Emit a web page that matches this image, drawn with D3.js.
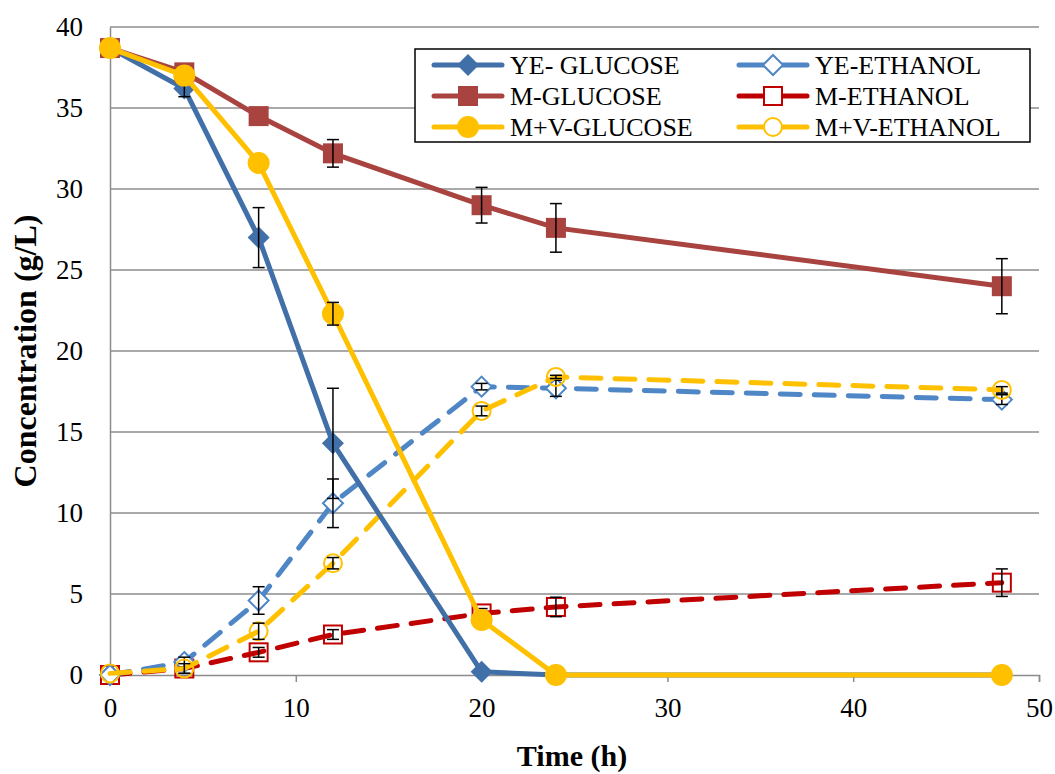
<!DOCTYPE html>
<html>
<head>
<meta charset="utf-8">
<script src="https://cdnjs.cloudflare.com/ajax/libs/d3/7.8.5/d3.min.js"></script>
<style>
  body { margin: 0; background: #fff; }
  svg text { font-family: "Liberation Serif", "Times New Roman", Times, "DejaVu Serif", serif !important; }
</style>
</head>
<body>
<svg width="1055" height="774"></svg>
<script>
var svg = d3.select("svg"),
    width = +svg.attr("width"),
    height = +svg.attr("height");

var serif = "'Liberation Serif', 'Times New Roman', Times, 'DejaVu Serif', serif";

// time points (h)
var times = [0, 4, 8, 12, 20, 24, 48];

// series values (g/L) and error bar half-widths
var yeGlucose   = [38.7, 36.2, 27.0, 14.3, 0.2, 0.0, 0.0];
var yeGlucoseErr = [0, 0.5, 1.85, 3.4, 0, 0, 0];
var mGlucose    = [38.7, 37.2, 34.5, 32.2, 29.0, 27.6, 24.0];
var mGlucoseErr = [0, 0, 0, 0.85, 1.1, 1.5, 1.7];
var mvGlucose   = [38.7, 37.0, 31.6, 22.3, 3.4, 0.0, 0.0];
var mvGlucoseErr = [0, 0, 0, 0.7, 0, 0, 0];
var yeEthanol   = [0.0, 0.8, 4.6, 10.6, 17.8, 17.7, 17.0];
var yeEthanolErr = [0, 0.3, 0.85, 1.5, 0.2, 0.5, 0.3];
var mEthanol    = [0.0, 0.4, 1.4, 2.5, 3.8, 4.2, 5.7];
var mEthanolErr = [0, 0.3, 0.3, 0.3, 0.3, 0.6, 0.85];
var mvEthanol   = [0.1, 0.4, 2.7, 6.9, 16.3, 18.4, 17.6];
var mvEthanolErr = [0, 0.3, 0.5, 0.35, 0.3, 0.1, 0.2];

var xTicks = [0, 10, 20, 30, 40, 50];
var yTicks = [0, 5, 10, 15, 20, 25, 30, 35, 40];

var series = [
  { name: "YE- GLUCOSE",  values: yeGlucose,  err: yeGlucoseErr,  color: "#4170A8", dash: null,    marker: "diamond", fill: true },
  { name: "M-GLUCOSE",    values: mGlucose,   err: mGlucoseErr,   color: "#A8433F", dash: null,    marker: "square",  fill: true },
  { name: "M+V-GLUCOSE",  values: mvGlucose,  err: mvGlucoseErr,  color: "#FFC000", dash: null,    marker: "circle",  fill: true },
  { name: "YE-ETHANOL",   values: yeEthanol,  err: yeEthanolErr,  color: "#4F86C6", dash: "20,14", marker: "diamond", fill: false },
  { name: "M-ETHANOL",    values: mEthanol,   err: mEthanolErr,   color: "#C00000", dash: "20,14", marker: "square",  fill: false },
  { name: "M+V-ETHANOL",  values: mvEthanol,  err: mvEthanolErr,  color: "#FFC000", dash: "20,14", marker: "circle",  fill: false }
];

var x = d3.scaleLinear().domain([0, 50]).range([110, 1039]);
var y = d3.scaleLinear().domain([0, 40]).range([675, 27]);

// gridlines
svg.append("g")
  .selectAll("line")
  .data(yTicks.filter(function(d){ return d > 0; }))
  .enter()
  .append("line")
  .attr("x1", x(0)).attr("x2", x(50))
  .attr("y1", function(d){ return y(d); })
  .attr("y2", function(d){ return y(d); })
  .attr("stroke", "#8c8c8c")
  .attr("stroke-width", 1.5);

// x axis
var xAxis = svg.append("g")
  .attr("transform", "translate(0," + y(0) + ")")
  .call(d3.axisBottom(x).tickValues(xTicks).tickSize(7).tickPadding(16).tickFormat(d3.format("d")));
xAxis.attr("font-family", serif);
xAxis.select(".domain").attr("stroke", "#8c8c8c").attr("stroke-width", 1.5);
xAxis.selectAll(".tick line").attr("stroke", "#8c8c8c").attr("stroke-width", 1.5);
xAxis.selectAll("text").attr("font-size", 27).attr("fill", "#000");

// y axis
var yAxis = svg.append("g")
  .attr("transform", "translate(" + x(0) + ",0)")
  .call(d3.axisLeft(y).tickValues(yTicks).tickSize(0).tickPadding(27).tickFormat(d3.format("d")));
yAxis.attr("font-family", serif);
yAxis.select(".domain").attr("stroke", "#8c8c8c").attr("stroke-width", 1.5);
yAxis.selectAll("text").attr("font-size", 27).attr("fill", "#000");

// axis titles
svg.append("text")
  .attr("x", 572).attr("y", 766)
  .attr("text-anchor", "middle")
  .attr("font-family", serif)
  .attr("font-size", 30).attr("font-weight", "bold")
  .text("Time (h)");

svg.append("text")
  .attr("transform", "translate(36,351) rotate(-90)")
  .attr("text-anchor", "middle")
  .attr("font-family", serif)
  .attr("font-size", 32).attr("font-weight", "bold")
  .text("Concentration (g/L)");

var line = d3.line()
  .x(function(d){ return x(d[0]); })
  .y(function(d){ return y(d[1]); });

function pts(s) {
  return times.map(function(t, i){ return [t, s.values[i]]; });
}

function drawMarker(g, s, cx, cy, big) {
  var sw = s.fill ? 0 : 2;
  if (s.marker === "diamond") {
    var r = s.fill ? 11 : 10;
    g.append("path")
      .attr("d", "M" + cx + "," + (cy - r) + "L" + (cx + r) + "," + cy + "L" + cx + "," + (cy + r) + "L" + (cx - r) + "," + cy + "Z")
      .attr("fill", s.fill ? s.color : "#fff")
      .attr("stroke", s.color).attr("stroke-width", sw);
  } else if (s.marker === "square") {
    var h = s.fill ? 10 : 9;
    g.append("rect")
      .attr("x", cx - h).attr("y", cy - h).attr("width", 2 * h).attr("height", 2 * h)
      .attr("fill", s.fill ? s.color : (big ? "#fff" : "none"))
      .attr("stroke", s.color).attr("stroke-width", sw);
  } else {
    var rr = s.fill ? 11 : 9;
    g.append("circle")
      .attr("cx", cx).attr("cy", cy).attr("r", rr)
      .attr("fill", s.fill ? s.color : (big ? "#fff" : "none"))
      .attr("stroke", s.color).attr("stroke-width", sw);
  }
}

// draw ethanol series first, glucose on top as in reference
var order = [4, 3, 5, 0, 1, 2];
order.forEach(function(k) {
  var s = series[k];
  var g = svg.append("g");
  g.append("path")
    .datum(pts(s))
    .attr("d", line)
    .attr("fill", "none")
    .attr("stroke", s.color)
    .attr("stroke-width", 5)
    .attr("stroke-linecap", "round")
    .attr("stroke-dasharray", s.dash);

  times.forEach(function(t, i) {
    drawMarker(g, s, x(t), y(s.values[i]), false);
  });

  // error bars
  times.forEach(function(t, i) {
    var e = s.err[i];
    if (!e) return;
    var cx = x(t), y1 = y(s.values[i] + e), y2 = y(s.values[i] - e);
    g.append("line").attr("x1", cx).attr("x2", cx).attr("y1", y1).attr("y2", y2)
      .attr("stroke", "#000").attr("stroke-width", 1.5);
    [y1, y2].forEach(function(yy) {
      g.append("line").attr("x1", cx - 6).attr("x2", cx + 6).attr("y1", yy).attr("y2", yy)
        .attr("stroke", "#000").attr("stroke-width", 1.5);
    });
  });
});

// legend
var legend = svg.append("g").attr("font-family", serif);
legend.append("rect")
  .attr("x", 415).attr("y", 49).attr("width", 615).attr("height", 93)
  .attr("fill", "#fff").attr("stroke", "#000").attr("stroke-width", 1.5);

series.forEach(function(s, i) {
  var col = i < 3 ? 0 : 1,
      row = i % 3;
  var lx = col === 0 ? 434 : 739,
      ly = 65 + row * 31;
  var lg = legend.append("g");
  lg.append("line")
    .attr("x1", lx).attr("x2", lx + 68)
    .attr("y1", ly).attr("y2", ly)
    .attr("stroke", s.color).attr("stroke-width", 5)
    .attr("stroke-linecap", "round");
  drawMarker(lg, s, lx + 34, ly, true);
  lg.append("text")
    .attr("x", col === 0 ? 510 : 815)
    .attr("y", ly + 9)
    .attr("font-size", 26)
    .text(s.name);
});
</script>
</body>
</html>
